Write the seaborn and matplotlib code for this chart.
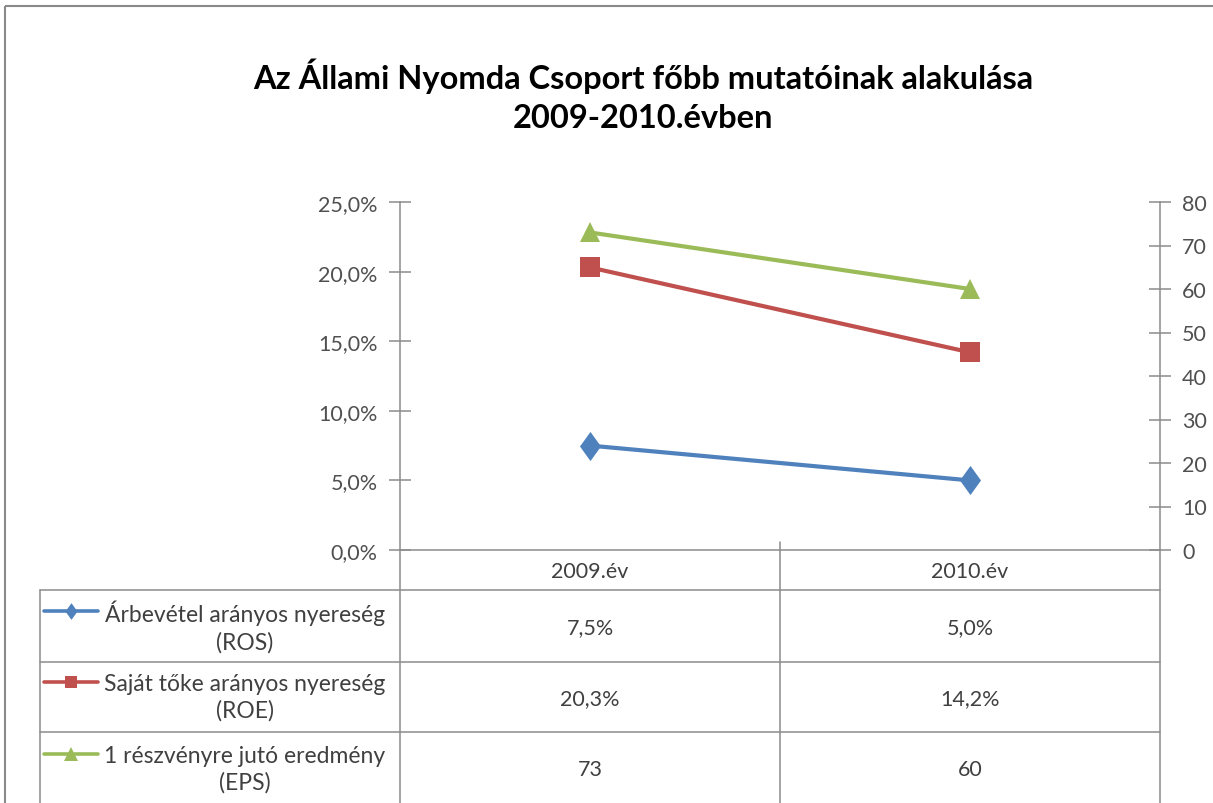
"""Az Állami Nyomda Csoport főbb mutatói 2009-2010 – Excel-style line chart with data table."""

import matplotlib.pyplot as plt
import pandas as pd
import seaborn as sns
from matplotlib.patches import Rectangle
from matplotlib.path import Path

# --- data -------------------------------------------------------------
categories = ["2009.év", "2010.év"]
ros_values = [7.5, 5.0]      # %
roe_values = [20.3, 14.2]    # %
eps_values = [73, 60]        # Ft / részvény (right axis)
series_labels = [
    "Árbevétel arányos nyereség\n(ROS)",
    "Saját tőke arányos nyereség\n(ROE)",
    "1 részvényre jutó eredmény\n(EPS)",
]
left_ticks = [0, 5, 10, 15, 20, 25]
right_ticks = [0, 10, 20, 30, 40, 50, 60, 70, 80]

BLUE, RED, GREEN = "#4F81BD", "#C0504D", "#9BBB59"
GRID = "#8C8C8C"
TXT = "#404040"
FS = 15.5

# Excel-like diamond: a bit taller than wide
DIAMOND = Path([(0, 1), (0.72, 0), (0, -1), (-0.72, 0), (0, 1)], closed=True)

sns.set_style("white")
plt.rcParams["font.family"] = ["Lato", "DejaVu Sans"]

W, H = 1213, 804
fig = plt.figure(figsize=(W / 100, H / 100), dpi=100)

# overlay in pixel coordinates for frame + data table
ov = fig.add_axes([0, 0, 1, 1], zorder=0)
ov.set_xlim(0, W)
ov.set_ylim(H, 0)
ov.axis("off")

ov.add_patch(Rectangle((5, 7), W + 20, H + 20, fill=False, ec="#8a8a8a", lw=1.5))

# --- plot area --------------------------------------------------------
x0, x1, y_top, y_bot = 400, 1160, 203, 551
ax = fig.add_axes([x0 / W, 1 - y_bot / H, (x1 - x0) / W, (y_bot - y_top) / H], zorder=2)
ax.patch.set_alpha(0)
ax2 = ax.twinx()

df = pd.DataFrame({"year": categories, "ros": ros_values, "roe": roe_values, "eps": eps_values})

sns.lineplot(data=df, x="year", y="ros", ax=ax, color=BLUE, marker=DIAMOND, sort=False,
             linewidth=3, markeredgewidth=0, markersize=21)
sns.lineplot(data=df, x="year", y="roe", ax=ax, color=RED, marker="s", sort=False,
             linewidth=3, markeredgewidth=0, markersize=15)
sns.lineplot(data=df, x="year", y="eps", ax=ax2, color=GREEN, marker="^", sort=False,
             linewidth=3, markeredgewidth=0, markersize=15)

ax.set_xlim(-0.5, 1.5)
ax.set_ylim(0, 25)
ax2.set_ylim(0, 80)
ax.set_yticks(left_ticks)
ax.set_yticklabels([f"{t:.1f}%".replace(".", ",") for t in left_ticks])
ax2.set_yticks(right_ticks)
ax2.set_yticklabels([str(t) for t in right_ticks])
ax.set_xticks([])
for a in (ax, ax2):
    a.set_xlabel("")
    a.set_ylabel("")
    for s in a.spines.values():
        s.set_visible(False)
ax.spines["left"].set_visible(True)
ax.spines["bottom"].set_visible(True)
ax2.spines["right"].set_visible(True)
for sp in (ax.spines["left"], ax.spines["bottom"], ax2.spines["right"]):
    sp.set_color(GRID)
    sp.set_linewidth(1.1)
for a in (ax, ax2):
    a.tick_params(axis="y", direction="inout", length=16, width=1.1, color=GRID,
                  labelsize=FS, labelcolor="#505050", pad=8)

# --- title ------------------------------------------------------------
fig.text(643 / W, 1 - 96 / H, "Az Állami Nyomda Csoport főbb mutatóinak alakulása\n2009-2010.évben",
         ha="center", va="center", fontsize=23.5, fontweight="bold", color="black", linespacing=1.4)

# --- data table -------------------------------------------------------
tl, tm = 40, 780
row_edges = [551, 591, 663, 733, H + 5]
lk = dict(color=GRID, lw=1.1, zorder=1)
for y in row_edges[1:-1]:
    ov.plot([tl, x1], [y, y], **lk)
ov.plot([tl, tl], [591, H + 5], **lk)
ov.plot([x0, x0], [y_bot, H + 5], **lk)
ov.plot([tm, tm], [y_bot - 8, H + 5], **lk)
ov.plot([x1, x1], [y_bot, H + 5], **lk)

col_centers = [(x0 + tm) / 2, (tm + x1) / 2]
for cx, cat in zip(col_centers, categories):
    ov.text(cx, (row_edges[0] + row_edges[1]) / 2 + 1, cat, ha="center", va="center",
            fontsize=FS, color=TXT)

row_values = [
    [f"{v:.1f}%".replace(".", ",") for v in ros_values],
    [f"{v:.1f}%".replace(".", ",") for v in roe_values],
    [str(v) for v in eps_values],
]
markers = [(DIAMOND, BLUE, 12), ("s", RED, 9), ("^", GREEN, 10)]
for i, (label, vals, (mk, col, ms)) in enumerate(zip(series_labels, row_values, markers)):
    top, bot = row_edges[i + 1], min(row_edges[i + 2], H + 2)
    cy = (top + bot) / 2
    ov.text(245, cy, label, ha="center", va="center", fontsize=16.5, color=TXT, linespacing=1.3)
    ov.plot([44, 71, 98], [cy - 15, cy - 15, cy - 15], color=col, lw=2.6, marker=mk,
            markevery=[1], ms=ms, mew=0, zorder=3)
    for cx, v in zip(col_centers, vals):
        ov.text(cx, cy + 1, v, ha="center", va="center", fontsize=FS, color=TXT)

fig.savefig("out.png", dpi=100)
